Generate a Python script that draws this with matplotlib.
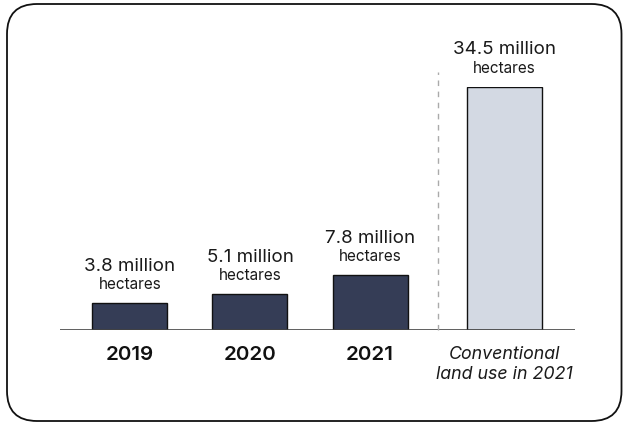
import matplotlib.pyplot as plt
from matplotlib.patches import FancyBboxPatch

plt.rcParams['font.family'] = ['Inter', 'DejaVu Sans']

years = ['2019', '2020', '2021']
areas = [3.8, 5.1, 7.8]
conventional_label = 'Conventional\nland use in 2021'
conventional_area = 34.5

W, H = 623, 423
fig = plt.figure(figsize=(W / 100, H / 100), dpi=100)

# background frame with rounded corners, drawn in pixel units
bg = fig.add_axes([0, 0, 1, 1])
bg.set_xlim(0, W)
bg.set_ylim(H, 0)
bg.axis('off')
frame = FancyBboxPatch((7, 4), 614.5, 417, boxstyle='round,pad=0,rounding_size=30',
                       fc='white', ec='#111111', lw=1.3)
bg.add_patch(frame)

# plotting area: baseline at y=330px, top of the tallest bar at 87px
left, right, base, top = 60, 575, 330, 87
ax = fig.add_axes([left / W, (H - base) / H, (right - left) / W, (base - top) / H])
ax.set_ylim(0, conventional_area)
ax.set_xlim(-0.583, 3.708)
ax.axis('off')
unit = (base - top) / conventional_area  # pixels per million hectares

xs = [0, 1, 2]
x_conv = 3.117
w = 0.625
ax.bar(xs, areas, width=w, color='#353d56', edgecolor='#111111', lw=1)
ax.bar([x_conv], [conventional_area], width=w, color='#d3d9e3', edgecolor='#111111', lw=1)

ax.axhline(0, color='#444444', lw=1.2)
ax.plot([2.567, 2.567], [0, 258 / unit], color='#aaaaaa', lw=1, ls=(0, (4, 4)), clip_on=False)

for x, v in zip(xs + [x_conv], areas + [conventional_area]):
    ax.text(x, v + 37 / unit, f'{v} million', ha='center', va='center', fontsize=13.5, color='#1a1a1a')
    ax.text(x, v + 18.5 / unit, 'hectares', ha='center', va='center', fontsize=11, color='#1a1a1a')

for x, y in zip(xs, years):
    ax.text(x, -25 / unit, y, ha='center', va='center', fontsize=14.8, fontweight='semibold', color='#111111')
ax.text(x_conv, -34.5 / unit, conventional_label, ha='center', va='center', fontsize=12.8,
        style='italic', color='#1a1a1a', linespacing=1.25)

fig.savefig('out.png', dpi=100)
